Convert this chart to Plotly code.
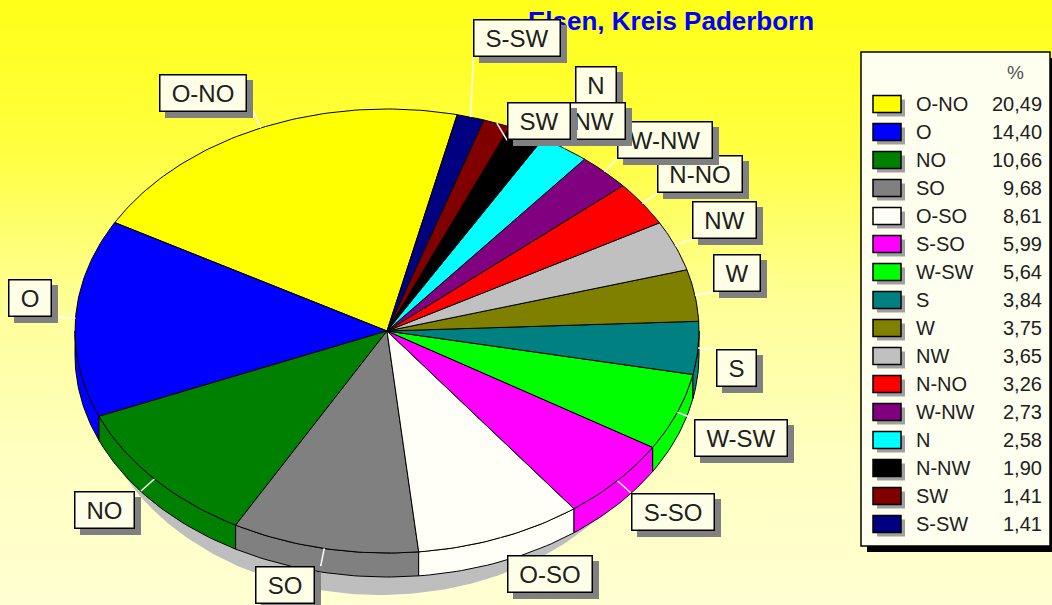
import numpy as np
import plotly.graph_objects as go

# ---------------- data ----------------
categories = ["O-NO", "O", "NO", "SO", "O-SO", "S-SO", "W-SW", "S",
              "W", "NW", "N-NO", "W-NW", "N", "N-NW", "SW", "S-SW"]
percent = [20.49, 14.40, 10.66, 9.68, 8.61, 5.99, 5.64, 3.84,
           3.75, 3.65, 3.26, 2.73, 2.58, 1.90, 1.41, 1.41]
colors = ["#FFFF00", "#0000FF", "#008000", "#808080", "#FFFFF8", "#FF00FF",
          "#00FF00", "#008080", "#808000", "#C0C0C0", "#FF0000", "#800080",
          "#00FFFF", "#000000", "#800000", "#000080"]
title_text = "Elsen, Kreis Paderborn"
legend_header = "%"

# ---------------- layout parameters ----------------
W, H = 1052, 605
CX, CY, RA, RB, DEPTH = 387, 331, 312, 222, 24   # projected pie ellipse
START = 77.0                                      # start angle (deg), counter-clockwise
LEADER = 18
LABEL_NUDGE = [(0, 0)] * 12 + [(0, -30), (1, 24), (4, 34), (-2, -43)]
FONT = "Arial, Liberation Sans, sans-serif"
CREAM = "#FFFFE8"
CHAR_W = {"O": 0.778, "N": 0.722, "S": 0.667, "W": 0.944, "-": 0.333}


def pt(t, dy=0.0):
    r = np.radians(t)
    return CX + RA * np.cos(r), CY - RB * np.sin(r) + dy


def arc(t0, t1, dy=0.0):
    n = max(3, int(abs(t1 - t0)) + 2)
    ts = np.linspace(t0, t1, n)
    xs, ys = pt(ts, dy)
    return list(xs), list(ys)


total = sum(percent)
bounds = [START]
for v in percent:
    bounds.append(bounds[-1] + 360.0 * v / total)

fig = go.Figure()

# background gradient
fig.add_trace(go.Scatter(
    x=[0, W, W, 0, 0], y=[0, 0, H, H, 0], mode="lines", fill="toself",
    line=dict(width=0, color="rgba(0,0,0,0)"),
    fillgradient=dict(type="vertical", start=0, stop=H,
                      colorscale=[[0, "#FFFF18"], [0.25, "#FFFF40"], [0.5, "#FFFF98"],
                                  [0.75, "#FFFFC0"], [1, "#FFFFD2"]]),
    hoverinfo="skip", showlegend=False))

# pie shadow
ts = np.linspace(0, 360, 361)
sx = 380 + 290 * np.cos(np.radians(ts))
sy = CY + DEPTH + 14 + 226 * np.sin(np.radians(ts))
fig.add_trace(go.Scatter(x=sx, y=sy, mode="lines", fill="toself",
                         fillcolor="#BEBEBE", line=dict(width=0),
                         hoverinfo="skip", showlegend=False))

# side walls (front half)
for i, c in enumerate(colors):
    lo, hi = max(bounds[i], 180.0), min(bounds[i + 1], 360.0)
    if lo < hi:
        x1, y1 = arc(lo, hi)
        x2, y2 = arc(hi, lo, DEPTH)
        fig.add_trace(go.Scatter(x=x1 + x2 + [x1[0]], y=y1 + y2 + [y1[0]],
                                 mode="lines", fill="toself", fillcolor=c,
                                 line=dict(color="black", width=1),
                                 hoverinfo="skip", showlegend=False))

# top faces
for i, c in enumerate(colors):
    xa, ya = arc(bounds[i], bounds[i + 1])
    fig.add_trace(go.Scatter(x=[CX] + xa + [CX], y=[CY] + ya + [CY],
                             mode="lines", fill="toself", fillcolor=c,
                             line=dict(color="black", width=1),
                             name=categories[i], hoverinfo="skip", showlegend=False))

# labels: leader lines + boxes
annotations = [dict(text="<b>" + title_text + "</b>", x=671, y=21, xref="x", yref="y",
                    showarrow=False, font=dict(family=FONT, size=26, color="#0000FF"),
                    xanchor="center", yanchor="middle")]
lx, ly = [], []
BOX_H = 38
for i, cat in enumerate(categories):
    tm = 0.5 * (bounds[i] + bounds[i + 1])
    px, py = pt(tm)
    r = np.radians(tm)
    cx_, sy_ = np.cos(r), np.sin(r)
    ex = px + LEADER * cx_ + LABEL_NUDGE[i][0]
    ey = py - LEADER * sy_ + LABEL_NUDGE[i][1]
    lx += [px, ex, None]
    ly += [py, ey, None]
    bw = round(sum(CHAR_W[ch] for ch in cat) * 24 + 25)
    if cx_ < 0:
        ax, xa = ex - 6, "right"
    else:
        ax, xa = ex, "left"
    ya_ = "bottom" if sy_ > 0 else "top"
    common = dict(x=ax, y=ey, xref="x", yref="y", showarrow=False,
                  xanchor=xa, yanchor=ya_, width=bw - 3, height=BOX_H - 3,
                  borderpad=0, borderwidth=1.5)
    annotations.append(dict(common, text=" ", bgcolor="#808080", bordercolor="#808080",
                            xshift=6, yshift=-6))
    annotations.append(dict(common, text=cat, bgcolor=CREAM, bordercolor="black",
                            font=dict(family=FONT, size=24, color="#202020")))

fig.add_trace(go.Scatter(x=lx, y=ly, mode="lines", line=dict(color="white", width=1.5),
                         hoverinfo="skip", showlegend=False))

# legend table
shapes = [
    dict(type="rect", xref="x", yref="y", x0=867, x1=1056, y0=58, y1=552,
         fillcolor="black", line=dict(width=0)),
    dict(type="rect", xref="x", yref="y", x0=861, x1=1050, y0=52, y1=546,
         fillcolor="#FFFFF0", line=dict(color="black", width=1.5)),
]
annotations.append(dict(text=legend_header, x=1015, y=72, xref="x", yref="y",
                        showarrow=False, font=dict(family=FONT, size=19, color="#505050"),
                        xanchor="center", yanchor="middle"))
ROW0, PITCH = 104, 28
for i, (cat, v, c) in enumerate(zip(categories, percent, colors)):
    yc = ROW0 + PITCH * i
    shapes.append(dict(type="rect", xref="x", yref="y", x0=877, x1=905,
                       y0=yc - 8.5 + 4, y1=yc + 8.5 + 4, fillcolor="#A0A0A0",
                       line=dict(width=0)))
    shapes.append(dict(type="rect", xref="x", yref="y", x0=873, x1=901,
                       y0=yc - 8.5, y1=yc + 8.5, fillcolor=c,
                       line=dict(color="black", width=1.5)))
    annotations.append(dict(text=cat, x=914, y=yc, xref="x", yref="y", showarrow=False,
                            xanchor="left", yanchor="middle",
                            font=dict(family=FONT, size=20, color="#202020")))
    annotations.append(dict(text=f"{v:.2f}".replace(".", ","), x=1044, y=yc,
                            xref="x", yref="y", showarrow=False,
                            xanchor="right", yanchor="middle",
                            font=dict(family=FONT, size=20, color="#202020")))

fig.update_layout(
    width=W, height=H, margin=dict(l=0, r=0, t=0, b=0),
    paper_bgcolor="#FFFF80", plot_bgcolor="rgba(0,0,0,0)",
    xaxis=dict(range=[0, W], visible=False, fixedrange=True),
    yaxis=dict(range=[H, 0], visible=False, fixedrange=True),
    shapes=shapes, annotations=annotations, showlegend=False,
)
fig.write_html("out.html", config={"displayModeBar": False},
               post_script="document.body.style.margin='0';document.body.style.overflow='hidden';")
